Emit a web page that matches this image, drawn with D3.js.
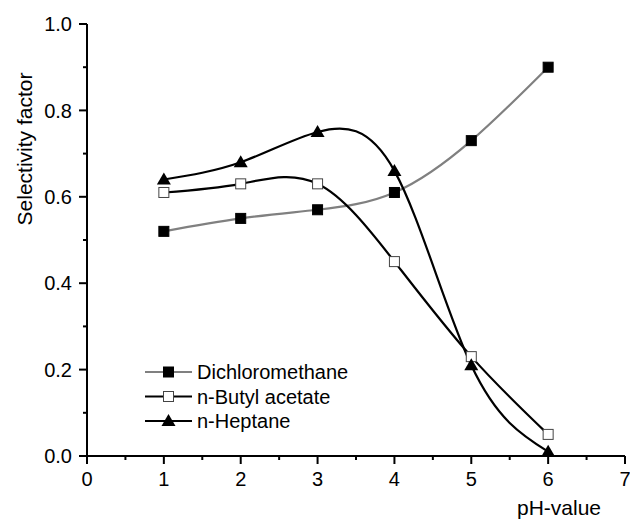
<!DOCTYPE html>
<html>
<head>
<meta charset="utf-8">
<script src="https://cdn.jsdelivr.net/npm/d3@7"></script>
<style>
  body { margin: 0; background: #fff; }
  text { font-family: "Liberation Sans", Arial, sans-serif; fill: #000; }
</style>
</head>
<body>
<div id="chart"></div>
<script>
// data
var phValues = [1, 2, 3, 4, 5, 6]
var dichloromethane = [0.52, 0.55, 0.57, 0.61, 0.73, 0.90]
var butylAcetate = [0.61, 0.63, 0.63, 0.45, 0.23, 0.05]
var heptane = [0.64, 0.68, 0.75, 0.66, 0.21, 0.01]
var seriesNames = ["Dichloromethane", "n-Butyl acetate", "n-Heptane"]
var xTicks = [0, 1, 2, 3, 4, 5, 6, 7]
var yTicks = [0.0, 0.2, 0.4, 0.6, 0.8, 1.0]

var width = 630, height = 521
var margin = { top: 24, left: 87, right: 5, bottom: 65 }

var svg = d3.select("#chart")
    .append("svg")
    .attr("width", width)
    .attr("height", height)

var x = d3.scaleLinear().domain([0, 7]).range([margin.left, 625])
var y = d3.scaleLinear().domain([0, 1]).range([456, margin.top])

// x axis
var xAxis = svg.append("g").attr("transform", "translate(0,456)")
xAxis.append("line").attr("x1", x(0)).attr("x2", x(7)).attr("stroke", "#000").attr("stroke-width", 2)
xTicks.forEach(function(t) {
    xAxis.append("line").attr("x1", x(t)).attr("x2", x(t)).attr("y1", 0).attr("y2", 8)
        .attr("stroke", "#000").attr("stroke-width", 2)
    xAxis.append("text").attr("x", x(t)).attr("y", 30).attr("text-anchor", "middle")
        .style("font-size", "20px").text(t)
})
d3.range(0.5, 7, 1).forEach(function(t) {
    xAxis.append("line").attr("x1", x(t)).attr("x2", x(t)).attr("y1", 0).attr("y2", 4)
        .attr("stroke", "#000").attr("stroke-width", 2)
})

// y axis
var yAxis = svg.append("g").attr("transform", "translate(" + margin.left + ",0)")
yAxis.append("line").attr("y1", y(0)).attr("y2", y(1)).attr("stroke", "#000").attr("stroke-width", 2)
yTicks.forEach(function(t) {
    yAxis.append("line").attr("x1", 0).attr("x2", -8).attr("y1", y(t)).attr("y2", y(t))
        .attr("stroke", "#000").attr("stroke-width", 2)
    yAxis.append("text").attr("x", -15).attr("y", y(t)).attr("dy", "0.36em").attr("text-anchor", "end")
        .style("font-size", "20px").text(d3.format(".1f")(t))
})
d3.range(0.1, 1, 0.2).forEach(function(t) {
    yAxis.append("line").attr("x1", 0).attr("x2", -4).attr("y1", y(t)).attr("y2", y(t))
        .attr("stroke", "#000").attr("stroke-width", 2)
})

// axis titles
svg.append("text").attr("x", 559).attr("y", 515).attr("text-anchor", "middle")
    .style("font-size", "21px").text("pH-value")
svg.append("text").attr("transform", "translate(32,149) rotate(-90)").attr("text-anchor", "middle")
    .style("font-size", "21px").text("Selectivity factor")

var line = d3.line().x(d => x(d[0])).y(d => y(d[1])).curve(d3.curveNatural)

var series = [
    { name: seriesNames[0], values: dichloromethane, color: "#808080", marker: "filledSquare" },
    { name: seriesNames[1], values: butylAcetate, color: "#000", marker: "openSquare" },
    { name: seriesNames[2], values: heptane, color: "#000", marker: "triangle" }
]

function drawMarker(g, kind, cx, cy) {
    if (kind == "triangle") {
        g.append("path")
            .attr("d", "M" + cx + "," + (cy - 7) + "L" + (cx + 7) + "," + (cy + 5) + "L" + (cx - 7) + "," + (cy + 5) + "Z")
            .attr("fill", "#000")
    } else {
        g.append("rect").attr("x", cx - 5).attr("y", cy - 5).attr("width", 10).attr("height", 10)
            .attr("fill", kind == "openSquare" ? "#fff" : "#000")
            .attr("stroke", kind == "openSquare" ? "#444" : "#000").attr("stroke-width", 1)
    }
}

series.forEach(function(s) {
    var pts = phValues.map((p, i) => [p, s.values[i]])
    svg.append("path").attr("d", line(pts)).attr("fill", "none")
        .attr("stroke", s.color).attr("stroke-width", 2.2)
})
series.forEach(function(s) {
    var g = svg.append("g")
    phValues.forEach(function(p, i) { drawMarker(g, s.marker, x(p), y(s.values[i])) })
})

// legend
var legend = svg.append("g")
series.forEach(function(s, i) {
    var ly = 372 + i * 24.5
    legend.append("line").attr("x1", 145).attr("x2", 192).attr("y1", ly).attr("y2", ly)
        .attr("stroke", s.color).attr("stroke-width", 2.2)
    drawMarker(legend, s.marker, 168.5, ly)
    legend.append("text").attr("x", 197).attr("y", ly).attr("dy", "0.36em")
        .style("font-size", "20px").text(s.name)
})
</script>
</body>
</html>
